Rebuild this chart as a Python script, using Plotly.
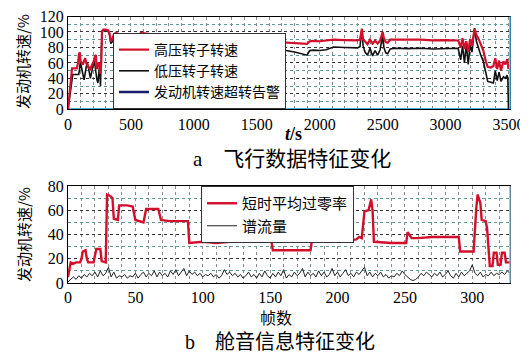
import plotly.graph_objects as go

# ---------------- data: panel a (flight data) ----------------
hp_t = [0, 32, 50, 70, 80, 88, 95, 100, 110, 120, 130, 137, 145, 155, 165, 175, 185, 195, 205, 215, 222, 228, 235, 245, 252, 258, 264, 270, 280,
        300, 320, 330, 340, 350, 365, 380, 420, 460, 500, 521, 540, 560, 570, 578, 620, 660, 687, 700, 720, 760, 800, 850, 900, 950, 970, 1000,
        1100, 1200, 1300, 1400, 1500, 1550, 1560, 1600, 1700, 1800, 1900, 1920, 1950, 2000, 2050, 2100, 2110, 2200, 2300, 2320, 2335, 2345,
        2360, 2380, 2400, 2420, 2440, 2460, 2480, 2500, 2510, 2525, 2540, 2560, 2600, 2700, 2800, 2900, 3000, 3100, 3120, 3135, 3150, 3165,
        3180, 3195, 3210, 3230, 3245, 3260, 3280, 3300, 3320, 3335, 3360, 3380, 3395, 3410, 3425, 3440, 3460, 3475, 3490, 3500]
hp_v = [0, 53, 53, 53, 60, 73, 72, 62, 60, 58, 64, 66, 60, 56, 54, 52, 56, 58, 62, 69, 70, 52, 58, 60, 48, 46, 60, 101, 103,
        103, 102, 98, 88, 90, 97, 99, 96, 94, 91, 90, 89, 86, 90, 99, 98, 97, 95, 92, 89, 88, 88, 88.5, 88, 89, 92, 92,
        91.5, 91, 91.5, 91, 91.5, 91, 88, 87.5, 86.5, 85.5, 84.5, 88, 88.5, 88, 88.5, 89.5, 90, 89.5, 89, 90, 104, 90,
        88, 84, 90, 85, 89, 85, 89, 100, 92, 87, 86, 90, 90, 89.5, 90, 89, 89.5, 89, 80, 92, 78, 88,
        74, 91, 82, 104, 96, 92, 84, 76, 62, 55, 54, 56, 66, 52, 63, 50, 62, 58, 65, 52]

lp_t = [0, 15, 30, 38, 60, 85, 92, 98, 105, 112, 120, 128, 135, 145, 155, 162, 170, 178, 188, 198, 208, 215, 222, 230, 238, 246, 252, 258, 264, 270, 280,
        300, 320, 330, 340, 350, 365, 380, 420, 460, 500, 521, 540, 560, 570, 578, 620, 660, 687, 700, 720, 760, 800, 850, 900, 950, 970, 1000,
        1100, 1200, 1300, 1400, 1500, 1550, 1560, 1600, 1700, 1800, 1900, 1920, 1950, 2000, 2050, 2100, 2110, 2200, 2300, 2320, 2335, 2345,
        2360, 2380, 2400, 2420, 2440, 2460, 2480, 2500, 2510, 2525, 2540, 2560, 2600, 2700, 2800, 2900, 3000, 3100, 3120, 3135, 3150, 3165,
        3180, 3195, 3210, 3230, 3245, 3260, 3280, 3300, 3320, 3335, 3360, 3380, 3395, 3410, 3425, 3440, 3460, 3475, 3490, 3495, 3500]
lp_v = [0, 20, 38, 45, 45, 45, 52, 62, 56, 48, 44, 38, 48, 55, 60, 52, 44, 40, 48, 56, 64, 56, 44, 38, 34, 56, 60, 30, 55, 100, 102,
        102, 101, 96, 85, 87, 94, 96, 93, 90, 87, 85, 84, 81, 86, 96, 95, 94, 93, 89, 84.5, 84, 83.5, 84, 84, 85, 87, 87,
        86, 86, 86.5, 86, 86, 85.5, 81, 79.5, 77, 74, 70, 76, 76.5, 76, 77, 80, 80.5, 80, 79.5, 81, 104, 82,
        74, 70, 79, 69, 76, 70, 77, 96, 80, 73, 72, 78, 79, 78.5, 79, 78, 78.5, 79, 64, 82, 60, 84,
        58, 83, 74, 105, 88, 80, 70, 62, 45, 36, 35, 34, 50, 37, 48, 36, 42, 40, 44, 38, 0]

warn_t = [0, 3512]
warn_v = [0, 0]

# ---------------- data: panel b (cockpit audio) ----------------
zcr_f = [0, 1, 2, 4, 6, 9, 10, 11, 13, 14, 15, 19, 20, 21, 24, 25, 28, 29, 31, 33, 34, 37, 38, 44, 48, 50, 56, 57, 58, 64, 67, 69, 75, 80, 89,
         90, 100, 110, 120, 130, 140, 151, 152, 165, 180, 181, 190, 200, 210, 214, 216, 218, 220, 223, 225, 226, 227, 240, 251, 252, 255,
         260, 270, 280, 290, 291, 301, 303, 304, 306, 307, 310, 311, 313, 315, 316, 318, 319, 321, 322, 324, 325, 328]
zcr_v = [5, 12, 17, 16, 17, 17, 20, 26, 27, 20, 17, 17, 22, 28, 28, 18, 17, 73, 72, 70, 53, 52, 64, 64, 63, 52, 50, 55, 61, 61, 61, 52, 51, 51, 51,
         33, 34, 33, 34, 34, 34, 34, 27, 27, 27, 35, 34, 34, 35, 36, 38, 37, 59, 60, 69, 60, 34, 33, 33, 42, 37,
         37, 38, 38, 38, 26, 26, 62, 73, 66, 52, 51, 45, 14, 14, 25, 25, 15, 15, 25, 25, 17, 17]

flux_f = list(range(0, 330, 2))
flux_v = [1, 3, 5, 3, 6, 4, 7, 5, 8, 6, 9, 5, 10, 6, 8, 13, 5, 9, 4, 6, 5, 7, 4, 6, 5, 8, 4, 7, 9, 5, 8, 6, 10, 5, 9, 6, 8, 5, 10, 7,
          11, 6, 9, 12, 6, 10, 7, 9, 6, 8, 5, 7, 6, 8, 5, 7, 4, 6, 11, 7, 9, 6, 8, 5, 7, 4, 6, 9, 5, 7, 4, 8, 5, 10, 6, 4, 8, 5,
          9, 6, 11, 4, 7, 5, 9, 6, 8, 12, 5, 9, 6, 8, 5, 10, 6, 9, 5, 7, 12, 6, 9, 5, 8, 11, 6, 8, 5, 9, 7, 10, 13, 6, 9, 5, 8, 6,
          9, 5, 7, 4, 6, 5, 8, 6, 10, 7, 5, 3, 2, 3, 5, 8, 6, 9, 7, 5, 8, 6, 9, 5, 7, 10, 6, 4, 8, 5, 9, 6, 8, 10, 15, 8, 6, 9, 5,
          7, 6, 9, 6, 8, 7, 9, 7, 10, 8]

RED = "#d2102c"
BLACK = "#111111"
NAVY = "#1a1a6e"
CYAN = "#4aaee0"
SERIF = "Liberation Serif, Noto Sans CJK SC"
CJK = "Noto Sans CJK SC"

# page offset (body margin) and figure geometry
OFF = 8
W, H = 520, 346
L, R = 60, 18
PW = W - L - R


def fx(p):  # page pixel x -> paper fraction
    return (p - OFF - L) / PW


def fy(p):  # page pixel y -> paper fraction
    return 1 - (p - OFF) / H


fig = go.Figure()

fig.add_trace(go.Scatter(x=warn_t, y=warn_v, mode="lines", line=dict(color=CYAN, width=2.5),
                         showlegend=False, cliponaxis=False, xaxis="x", yaxis="y"))
fig.add_trace(go.Scatter(x=lp_t, y=lp_v, mode="lines", line=dict(color=BLACK, width=1.6),
                         name="低压转子转速", legend="legend", legendrank=2, xaxis="x", yaxis="y"))
fig.add_trace(go.Scatter(x=hp_t, y=hp_v, mode="lines", line=dict(color=RED, width=2.2),
                         name="高压转子转速", legend="legend", legendrank=1, xaxis="x", yaxis="y"))
fig.add_trace(go.Scatter(x=[None], y=[None], mode="lines", line=dict(color=NAVY, width=2.5),
                         name="发动机转速超转告警", legend="legend", legendrank=3, xaxis="x", yaxis="y"))

fig.add_trace(go.Scatter(x=flux_f, y=flux_v, mode="lines", line=dict(color="#222222", width=1),
                         name="谱流量", legend="legend2", legendrank=2, xaxis="x2", yaxis="y2"))
fig.add_trace(go.Scatter(x=zcr_f, y=zcr_v, mode="lines", line=dict(color=RED, width=2.4),
                         name="短时平均过零率", legend="legend2", legendrank=1, xaxis="x2", yaxis="y2"))

tickfont = dict(family=SERIF, size=16, color="black")
common_y = dict(showline=True, linecolor="black", linewidth=1, mirror=True, ticks="", tickfont=tickfont,
                showgrid=True, gridcolor="#333333", griddash="dot", gridwidth=1, zeroline=False,
                ticklabeloverflow="allow",
                minor=dict(dtick=10, showgrid=True, gridcolor="#5a9a9a", griddash="dot", gridwidth=1))
common_x = dict(showline=True, linecolor="black", linewidth=1, mirror=True, ticks="", tickfont=tickfont,
                showgrid=True, gridcolor="#8a8a8a", griddash="dot", gridwidth=1, zeroline=False,
                ticklabeloverflow="allow")

top_dom = [fy(109.3), fy(16.5)]
bot_dom = [fy(283), fy(186)]

fig.update_layout(
    width=W, height=H,
    margin=dict(l=L, r=R, t=0, b=0, pad=0, autoexpand=False),
    paper_bgcolor="white", plot_bgcolor="white",
    xaxis=dict(common_x, domain=[0, 1], range=[0, 3512], dtick=500, anchor="y",
               minor=dict(dtick=100, showgrid=True, gridcolor="#8a8a8a", griddash="dot", gridwidth=1)),
    yaxis=dict(common_y, domain=top_dom, range=[0, 120], tickvals=[0, 20, 40, 60, 80, 100, 120], anchor="x"),
    xaxis2=dict(common_x, domain=[0, 1], range=[0, 328], dtick=50, anchor="y2",
                minor=dict(dtick=10, showgrid=True, gridcolor="#8a8a8a", griddash="dot", gridwidth=1)),
    yaxis2=dict(common_y, domain=bot_dom, range=[0, 80], dtick=20, anchor="x2"),
    legend=dict(x=fx(113), y=fy(109), xanchor="left", yanchor="bottom",
                bgcolor="white", bordercolor="#333333", borderwidth=1,
                font=dict(family=CJK, size=14, color="black"),
                itemwidth=30, tracegroupgap=0),
    legend2=dict(x=fx(201), y=fy(186), xanchor="left", yanchor="top",
                 bgcolor="white", bordercolor="#333333", borderwidth=1,
                 font=dict(family=CJK, size=15, color="black"),
                 itemwidth=30),
    showlegend=True,
)

# right frame edges appear light blue in the reference
fig.add_shape(type="line", xref="paper", yref="paper", x0=1, x1=1, y0=top_dom[0], y1=top_dom[1],
              line=dict(color=CYAN, width=1.5))
fig.add_shape(type="line", xref="paper", yref="paper", x0=1, x1=1, y0=bot_dom[0], y1=bot_dom[1],
              line=dict(color="#8ab4cc", width=1.5))

ann = [
    dict(text="发动机转速/%", x=23, y=62, textangle=-90, size=15, fam=CJK),
    dict(text="发动机转速/%", x=23, y=235, textangle=-90, size=15, fam=CJK),
    dict(text="<b><i>t</i>/s</b>", x=293, y=134, textangle=0, size=18, fam=SERIF),
    dict(text="a　飞行数据特征变化", x=292, y=159, textangle=0, size=21, fam=SERIF),
    dict(text="帧数", x=276, y=316.5, textangle=0, size=16, fam=CJK),
    dict(text="b　舱音信息特征变化", x=280, y=341.5, textangle=0, size=20, fam=SERIF),
]
for a in ann:
    fig.add_annotation(text=a["text"], x=fx(a["x"]), y=fy(a["y"]), xref="paper", yref="paper",
                       xanchor="center", yanchor="middle", showarrow=False, textangle=a["textangle"],
                       font=dict(family=a["fam"], size=a["size"], color="black"))

fig.write_html("out.html")
